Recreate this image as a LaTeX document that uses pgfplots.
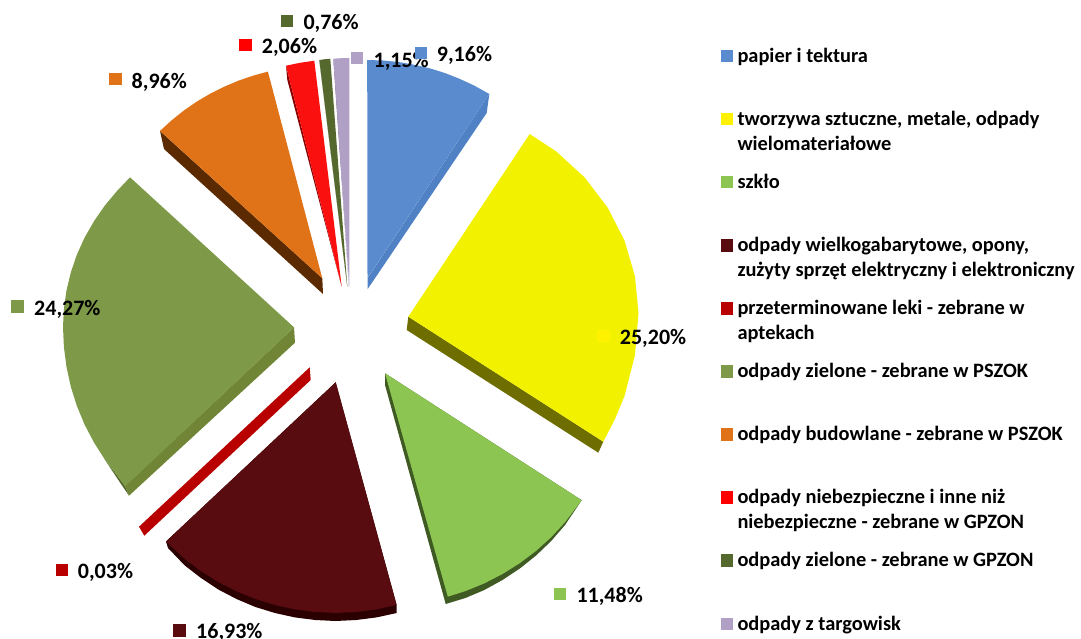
\documentclass[border=0pt]{standalone}
\usepackage{fontspec}
\setmainfont{Carlito}
\usepackage{pgfplots}
\pgfplotsset{compat=1.18}
\definecolor{cBlue}{HTML}{5A8BCE}
\definecolor{cBlueS}{HTML}{4F81C4}
\definecolor{cYel}{HTML}{F2F200}
\definecolor{cYelS}{HTML}{6E6E00}
\definecolor{cGrn}{HTML}{8CC552}
\definecolor{cGrnS}{HTML}{3F5A22}
\definecolor{cDrk}{HTML}{590C0F}
\definecolor{cDrkS}{HTML}{2A0000}
\definecolor{cLek}{HTML}{B80000}
\definecolor{cOli}{HTML}{7E9A48}
\definecolor{cOliS}{HTML}{708636}
\definecolor{cOliD}{HTML}{4F6228}
\definecolor{cOra}{HTML}{E07318}
\definecolor{cOraS}{HTML}{5C2A00}
\definecolor{cRed}{HTML}{FB1010}
\definecolor{cRedS}{HTML}{8B0000}
\definecolor{cDgr}{HTML}{55682E}
\definecolor{cDgrS}{HTML}{2F3C18}
\definecolor{cLil}{HTML}{B0A0C6}
\definecolor{cLilS}{HTML}{5F566E}
\newcommand{\swatch}[3]{\addplot[only marks,mark=square*,mark size=5.6pt,color=#1,mark options={draw=#1,fill=#1,line width=0.2pt}] coordinates {(#2,#3)};}
\newcommand{\lab}[3]{\node[anchor=base west,inner sep=0pt,font=\fontsize{22}{26}\selectfont\bfseries] at (axis cs:#1,#2) {#3};}
\newcommand{\leg}[3]{\node[anchor=base west,inner sep=0pt,font=\fontsize{20.4}{24}\selectfont\bfseries] at (axis cs:#1,#2) {#3};}
\begin{document}
\begin{tikzpicture}
\useasboundingbox (0,0) rectangle (1081pt,639pt);
\begin{axis}[width=1081pt,height=639pt,scale only axis,xmin=0,xmax=1081,ymin=0,ymax=639,y dir=reverse,hide axis,clip=false]
% blue
\addplot[fill=cBlueS,draw=none] coordinates {(367.7,278)(489.3,94)(486.7,113)(367.7,289)};
\addplot[fill=cBlue,draw=none] coordinates {(367.5,278)(367.2,60)(383.3,60.5)(399.1,62.1)(414.7,64.8)(430.1,68.4)(445.1,73.1)(459.8,78.9)(474.1,85.5)(489.3,94)};
% yellow
\addplot[fill=cYelS,draw=none] coordinates {(408.3,316.7)(603.3,441.7)(598.3,452.7)(406.7,330)};
\addplot[fill=cYel,draw=none] coordinates {(408.3,316.7)(529.7,134)(556.2,151.4)(584.6,177.4)(607.6,207.5)(624.6,240.8)(635,276.4)(638.5,313)(635,355)(624.6,395.8)(615,419)(603.3,441.7)};
% green
\addplot[fill=cGrnS,draw=none] coordinates {(385,373.3)(385,385)(445.7,604)(465.4,598)(484.3,590)(502.5,580)(519.8,568.5)(536.1,555.5)(551.2,541)(565,525)(581.7,500.2)};
\addplot[fill=cGrn,draw=none] coordinates {(385,373.3)(447.8,596.7)(465.4,591.1)(484.3,583.4)(502.5,574)(519.8,563.2)(536.1,550.9)(551.2,537.2)(565,522.3)(581.7,500.2)};
% dark red
\addplot[fill=cDrkS,draw=none] coordinates {(335.7,382.3)(396.7,605)(396.7,613)(376.5,617.4)(356.2,620)(335.7,621)(315.2,620)(294.9,617.4)(274.9,613)(255.4,607)(236.5,599)(218.3,589.5)(201,578)(184.8,565.5)(168,548)(166,541.5)};
\addplot[fill=cDrk,draw=none] coordinates {(335.7,382.3)(396.5,605)(376.5,609.4)(356.2,612)(335.7,612.9)(315.2,612)(294.9,609.4)(274.9,605)(255.4,599)(236.5,591.3)(218.3,582)(201,571.2)(184.8,559)(166,541.5)};
% thin red
\addplot[fill=cLek,draw=none] coordinates {(309.7,367.3)(139,526.7)(144.3,535.7)(310.7,380)};
% olive
\addplot[fill=cOliD,draw=none] coordinates {(104.8,459.5)(117,478)(129,495.7)(125,486)};
\addplot[fill=cOliS,draw=none] coordinates {(125,486)(129,495.7)(295,342.7)(294,327.3)};
\addplot[fill=cOli,draw=none] coordinates {(294,327.3)(130,177.3)(117,191)(104.8,205.6)(94,221.2)(84.6,237.6)(76.9,254.6)(70.9,272.2)(66.5,290.3)(63.9,308.6)(63,327)(63.9,347)(66.5,367)(70.9,387)(76.9,406)(84.6,424.6)(94,442.5)(104.8,459.5)(117,475.5)(125,486.5)};
% orange
\addplot[fill=cOraS,draw=none] coordinates {(160,131)(164,149)(323,294)(322.3,278.3)};
\addplot[fill=cOra,draw=none] coordinates {(322.3,278.3)(267.9,71.6)(252.9,75.7)(238.1,80.8)(223.8,86.9)(210,93.8)(196.6,101.7)(184,110.4)(172,120)(160,130.9)};
% small red
\addplot[fill=cRedS,draw=none] coordinates {(286,65.7)(287.3,80)(341.7,286.7)};
\addplot[fill=cRed,draw=none] coordinates {(286,65.7)(300,62.8)(314.3,60.7)(341.7,286.7)};
% small dark green
\addplot[fill=cDgrS,draw=none] coordinates {(319.3,60)(320.5,70)(347.3,286.7)};
\addplot[fill=cDgr,draw=none] coordinates {(319.3,60)(325,59.2)(330.3,58.7)(347.3,286.7)};
% lilac
\addplot[fill=cLilS,draw=none] coordinates {(333.3,58.7)(334.5,67)(349,287)};
\addplot[fill=cLil,draw=none] coordinates {(333.3,58.7)(341,58.2)(349.3,58)(349.3,286.7)};
% data-label keys
\swatch{cBlue}{420.7}{52.3}
\swatch{yellow}{603}{335.7}
\swatch{cGrn}{559.3}{593.7}
\swatch{cDrk}{179}{630}
\swatch{cLek}{61.3}{569.7}
\swatch{cOli}{17}{306}
\swatch{cOra}{115}{79}
\swatch{red}{245}{44.7}
\swatch{cDgr}{286.7}{20.7}
\swatch{cLil}{356.7}{58}
\lab{436.7}{61.8}{9,16\%}
\lab{373.4}{67.8}{1,15\%}
\lab{303.3}{29.5}{0,76\%}
\lab{261.7}{53.5}{2,06\%}
\lab{131.5}{89}{8,96\%}
\lab{619.7}{344}{25,20\%}
\lab{576.3}{602}{11,48\%}
\lab{196}{638}{16,93\%}
\lab{77.7}{578}{0,03\%}
\lab{34}{315}{24,27\%}
% legend keys
\swatch{cBlue}{726.3}{55.7}
\swatch{yellow}{726.3}{119}
\swatch{cGrn}{726.3}{181.7}
\swatch{cDrk}{726.3}{245}
\swatch{cLek}{726.3}{308}
\swatch{cOli}{726.3}{371}
\swatch{cOra}{726.3}{434}
\swatch{red}{726.3}{497}
\swatch{cDgr}{726.3}{560}
\swatch{cLil}{726.3}{623.3}
\leg{737.3}{62.2}{papier i tektura}
\leg{737.3}{125.7}{tworzywa sztuczne, metale, odpady}
\leg{737.3}{150.4}{wielomateriałowe}
\leg{737.3}{188.4}{szkło}
\leg{737.3}{251.5}{odpady wielkogabarytowe, opony,}
\leg{737.3}{276.4}{zużyty sprzęt elektryczny i elektroniczny}
\leg{737.3}{314.7}{przeterminowane leki - zebrane w}
\leg{737.3}{339.6}{aptekach}
\leg{737.3}{377.3}{odpady zielone - zebrane w PSZOK}
\leg{737.3}{440.3}{odpady budowlane - zebrane w PSZOK}
\leg{737.3}{503.4}{odpady niebezpieczne i inne niż}
\leg{737.3}{528.4}{niebezpieczne - zebrane w GPZON}
\leg{737.3}{566.7}{odpady zielone - zebrane w GPZON}
\leg{737.3}{630}{odpady z targowisk}
\end{axis}
\end{tikzpicture}
\end{document}
